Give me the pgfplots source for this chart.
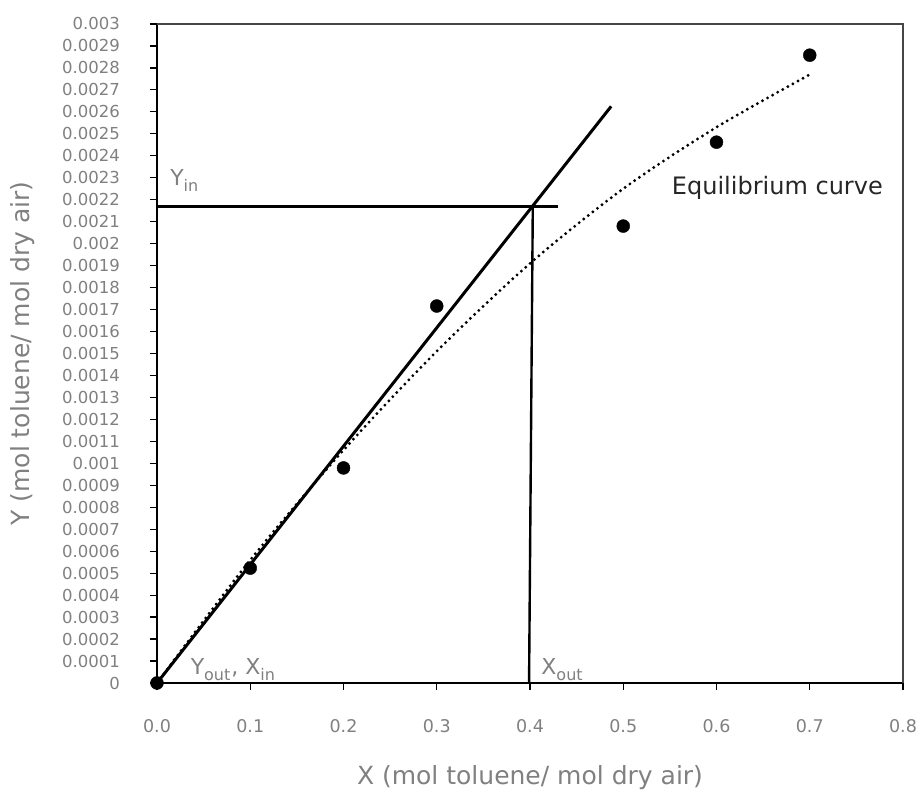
\documentclass[border=0pt]{standalone}
\usepackage{pgfplots}
\pgfplotsset{compat=1.18}
\usepackage{fontspec}
\setmainfont{DejaVu Sans}
\definecolor{labelgray}{RGB}{128,128,128}
\definecolor{framegray}{RGB}{70,70,70}
\newcommand{\sub}[1]{\raisebox{-0.28em}{\fontsize{16}{16}\selectfont #1}}

% equilibrium data
\pgfplotstableread{
x    y
0.0  0.0
0.1  0.000523
0.2  0.000979
0.3  0.001716
0.5  0.002080
0.6  0.002462
0.7  0.002858
}\eqdata

\begin{document}
\begin{tikzpicture}
\begin{axis}[
  scale only axis, width=746pt, height=659pt,
  xmin=0, xmax=0.8, ymin=0, ymax=0.003,
  axis x line=bottom, axis y line=left,
  axis line style={-, black, line width=1.6pt},
  xtick distance=0.1, ytick distance=0.0001,
  tick align=outside, major tick length=7pt,
  tick style={black, line width=1.2pt},
  scaled x ticks=false, scaled y ticks=false,
  /pgf/number format/assume math mode=true,
  xticklabel={\pgfmathprintnumber[fixed,fixed zerofill,precision=1]{\tick}},
  yticklabel={\pgfmathprintnumber[fixed,precision=4]{\tick}},
  tick label style={font=\fontsize{16.5}{16.5}\selectfont, text=labelgray},
  xticklabel style={anchor=north, inner sep=0pt, yshift=-29pt, font=\fontsize{17.5}{17.5}\selectfont},
  yticklabel style={anchor=east, inner sep=0pt, xshift=-30pt},
  xlabel={X (mol toluene/ mol dry air)},
  ylabel={Y (mol toluene/ mol dry air)},
  label style={font=\fontsize{25}{25}\selectfont, text=labelgray},
  xlabel style={at={(axis description cs:0.5,-0.144)}, anchor=center},
  ylabel style={at={(axis description cs:-0.18,0.5)}, anchor=center},
  clip=false,
]
% frame on top and right
\draw[framegray, line width=1.2pt] (rel axis cs:0,1) -- (rel axis cs:1,1) -- (rel axis cs:1,0);

% equilibrium trend (dotted)
\addplot[black, line width=3.2pt, line cap=round, dash pattern=on 0pt off 5.8pt, smooth]
  coordinates {(0,0) (0.1,0.00056) (0.2,0.00106) (0.3,0.00151) (0.4,0.00191) (0.5,0.00225) (0.6,0.00253) (0.7,0.00277)};

% operating line
\addplot[black, line width=3pt] coordinates {(0,0) (0.487,0.002625)};
% Y_in level
\addplot[black, line width=3pt] coordinates {(0,0.002167) (0.43,0.002167)};
% X_out drop
\addplot[black, line width=2.4pt] coordinates {(0.399,0) (0.403,0.002167)};

% data points
\addplot[only marks, mark=*, mark size=6.5pt, black] table {\eqdata};

\node[anchor=base west, text=labelgray, font=\fontsize{22}{22}\selectfont, inner sep=0pt]
  at (axis cs:0.014,0.002265) {Y\sub{in}};
\node[anchor=base west, text=labelgray, font=\fontsize{22}{22}\selectfont, inner sep=0pt]
  at (axis cs:0.036,0.00004) {Y\sub{out}\kern1pt, X\sub{in}};
\node[anchor=base west, text=labelgray, font=\fontsize{22}{22}\selectfont, inner sep=0pt]
  at (axis cs:0.412,0.00004) {X\sub{out}};
\node[anchor=west, text=black!85, font=\fontsize{24}{24}\selectfont, inner sep=0pt]
  at (axis cs:0.552,0.002253) {Equilibrium curve};
\end{axis}
\path (current axis.south west) ++(-157pt,-116pt) rectangle ++(919pt,799pt);
\end{tikzpicture}
\end{document}
